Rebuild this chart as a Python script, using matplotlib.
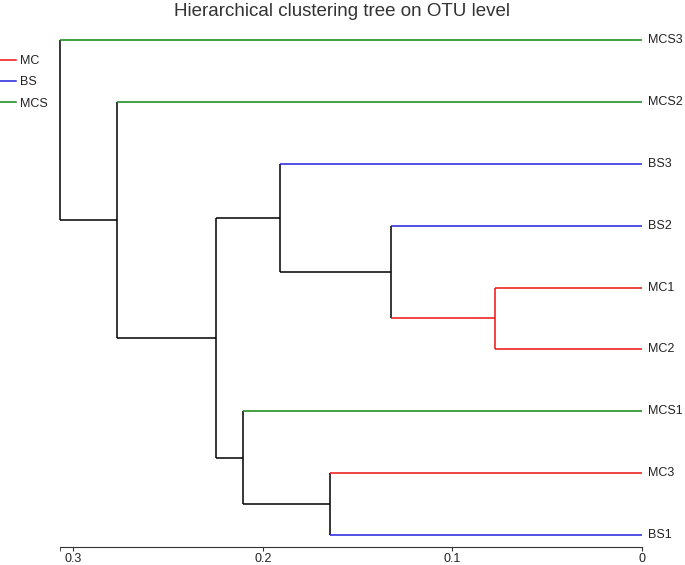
import matplotlib
matplotlib.use('Agg')
import matplotlib.pyplot as plt
from matplotlib.lines import Line2D

plt.rcParams['font.family'] = ['Liberation Sans', 'DejaVu Sans']

# leaves top to bottom and their groups
leaves = ['MCS3', 'MCS2', 'BS3', 'BS2', 'MC1', 'MC2', 'MCS1', 'MC3', 'BS1']
groups = ['MCS', 'MCS', 'BS', 'BS', 'MC', 'MC', 'MCS', 'MC', 'BS']

# merges: (child a, child b, height); new nodes numbered from len(leaves)
merges = [(4, 5, 0.0776), (3, 9, 0.1325), (2, 10, 0.191), (7, 8, 0.1646),
          (6, 12, 0.2106), (11, 13, 0.2248), (1, 14, 0.277), (0, 15, 0.307)]

group_names = ['MC', 'BS', 'MCS']
group_colors = {'MC': '#EE1111', 'BS': '#2222DD', 'MCS': '#118811'}

tick_vals = [0, 0.1, 0.2, 0.3]
tick_labels = ['0', '0.1', '0.2', '0.3']

W, H = 685, 565
fig = plt.figure(figsize=(W / 100, H / 100), dpi=100)
ax = fig.add_axes([60 / W, (H - 547) / H, (642 - 60) / W, (547 - 30) / H])

# positions / group membership of every node
n = len(leaves)
pos_y = {i: i + 1 for i in range(n)}
pos_x = {i: 0.0 for i in range(n)}
members = {i: {groups[i]} for i in range(n)}
for k, (a, b, h) in enumerate(merges):
    node = n + k
    pos_y[node] = (pos_y[a] + pos_y[b]) / 2
    pos_x[node] = h
    members[node] = members[a] | members[b]

def col(node):
    m = members[node]
    return group_colors[next(iter(m))] if len(m) == 1 else 'black'

lw = 1.1
for k, (a, b, h) in enumerate(merges):
    node = n + k
    ax.plot([h, h], [pos_y[a], pos_y[b]], color=col(node), lw=lw,
            solid_capstyle='butt', clip_on=False)
    for c in (a, b):
        ax.plot([h, pos_x[c]], [pos_y[c], pos_y[c]], color=col(c), lw=lw,
                solid_capstyle='butt', clip_on=False)

for i, name in enumerate(leaves):
    ax.annotate(name, (0, pos_y[i]), xytext=(4, 0), textcoords='offset points',
                ha='left', va='center', fontsize=9, color='#222222', annotation_clip=False)

root_h = merges[-1][2]
ax.set_xlim(root_h, 0)
ax.set_ylim(9 + 12 / 61.9, 1 - 10 / 61.9)
for s in ['left', 'top', 'right']:
    ax.spines[s].set_visible(False)
ax.spines['bottom'].set_bounds(0, root_h)
ax.spines['bottom'].set_color('#333333')
ax.set_yticks([])
ax.set_xticks(tick_vals)
ax.set_xticklabels(tick_labels)
ax.set_xticks([root_h], minor=True)
ax.tick_params(axis='x', which='both', direction='out', length=3, labelsize=9,
               color='#333333', labelcolor='#222222', pad=1)

fig.suptitle('Hierarchical clustering tree on OTU level', x=0.5, y=1 - 12 / H,
             va='center', fontsize=13.5, color='#333333')

handles = [Line2D([], [], color=group_colors[g], lw=lw) for g in group_names]
fig.legend(handles, group_names, loc='upper left', bbox_to_anchor=(0, 1 - 55 / H),
           frameon=False, fontsize=9, handlelength=1.25, handletextpad=0.35,
           labelspacing=0.75, borderpad=0, borderaxespad=0, labelcolor='#222222')

fig.savefig('out.png', dpi=100)
